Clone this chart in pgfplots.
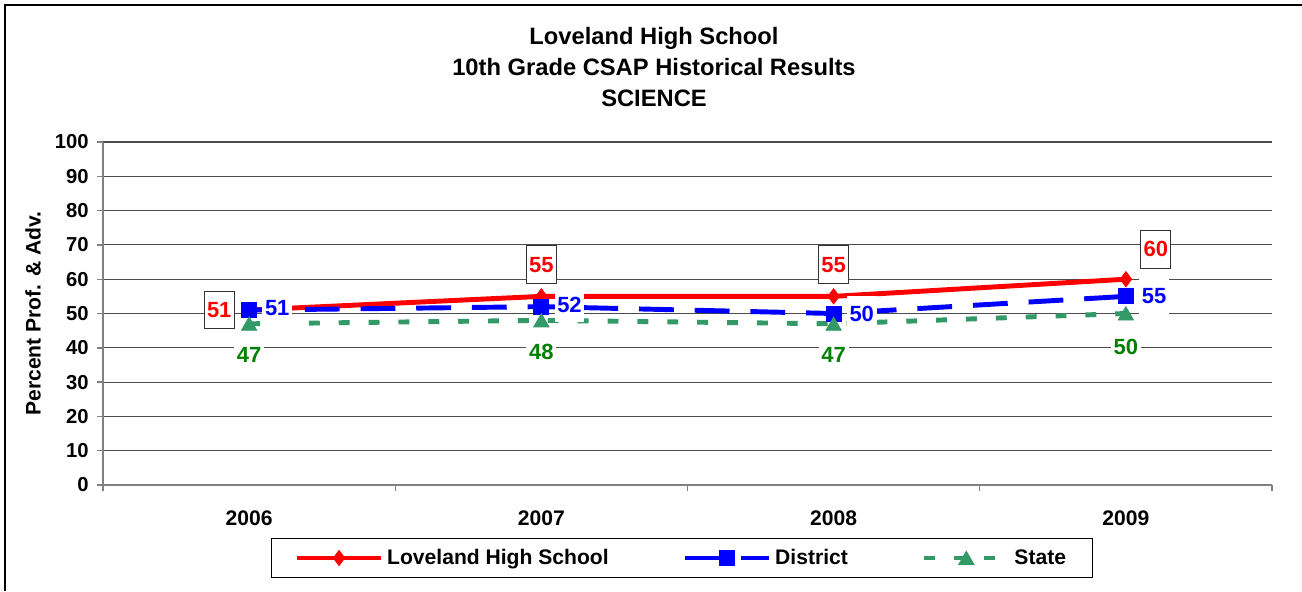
\documentclass[border=0pt]{standalone}
\usepackage{pgfplots}
\pgfplotsset{compat=1.18}
\usepackage{fontspec}
\setmainfont{Liberation Sans}

\definecolor{lhs}{RGB}{255,0,0}
\definecolor{dist}{RGB}{0,0,255}
\definecolor{state}{RGB}{51,153,102}
\definecolor{statelab}{RGB}{0,128,0}

% label offsets (pt) relative to the point
\pgfplotstableread{
x y dx dy
0 51 -17 0
1 55 0 18
2 55 0 18
3 60 17 17
}\lhsdata
\pgfplotstableread{
x y dx dy
0 51 16 1
1 52 16 1
2 50 16 0
3 55 16 0
}\distdata
\pgfplotstableread{
x y dx dy
0 47 0 -18
1 48 0 -18
2 47 0 -18
3 50 0 -19
}\statedata

\begin{document}
\begin{tikzpicture}
\path[use as bounding box] (0,0) rectangle (26.04,11.82);
\draw[line width=1.4pt] (0.1,0) -- (0.1,11.72) -- (26.04,11.72);

\node[font=\bfseries\fontsize{13.5}{17.9}\selectfont, align=center] at (13.08,10.48)
  {Loveland High School\\10th Grade CSAP Historical Results\\SCIENCE};

\begin{axis}[
  at={(2.06cm,2.12cm)}, anchor=south west,
  scale only axis, width=23.38cm, height=6.86cm,
  xmin=-0.5, xmax=3.5, ymin=0, ymax=100,
  ytick distance=10,
  xtick={-0.5,0.5,1.5,2.5,3.5}, xticklabels={},
  extra x ticks={0,1,2,3},
  extra x tick labels={2006,2007,2008,2009},
  extra x tick style={major tick length=0pt, grid=none},
  axis lines=left, axis line style={-, draw=gray, line width=0.8pt},
  tick align=outside, major tick length=3.6pt,
  tick style={draw=gray, line width=0.8pt},
  ymajorgrids, grid style={draw=black!70, line width=0.6pt},
  /pgf/number format/assume math mode=true,
  yticklabel style={font=\bfseries\fontsize{11.5}{13}\selectfont, xshift=-1pt},
  xticklabel style={font=\bfseries\fontsize{12}{14}\selectfont, yshift=-11pt},
  ylabel={Percent Prof. \& Adv.},
  ylabel style={font=\bfseries\fontsize{12}{14}\selectfont, at={(axis description cs:-0.0599,0.5)}, anchor=center},
  legend columns=3,
  legend style={at={(0.4953,-0.2128)}, anchor=center, draw=black, line width=0.6pt,
    font=\bfseries\fontsize{12}{14}\selectfont, inner xsep=13pt, inner ysep=4pt,
    /tikz/every even column/.append style={column sep=40pt}},
  legend image code/.code={\draw[mark repeat=2,mark phase=2] plot coordinates {(0pt,0pt)(24pt,0pt)(48pt,0pt)};},
  clip=false,
]
\addplot[lhs, line width=2.8pt, mark=diamond*, mark size=4.3pt, mark options={solid, line width=0.5pt}] table[x=x,y=y] {\lhsdata};
\addlegendentry{Loveland High School}
\addplot[dist, line width=2.8pt, dash pattern=on 19.8pt off 11.9pt, mark=square*, mark size=4.25pt, mark options={solid, line width=0.5pt}] table[x=x,y=y] {\distdata};
\addlegendentry{District}
\addplot[state, line width=2.8pt, dash pattern=on 6.2pt off 10.8pt, mark=triangle*, mark size=5pt, mark options={solid, line width=0.5pt, yshift=-1.2pt}] table[x=x,y=y] {\statedata};
\addlegendentry{State}

% data labels
\addplot[draw=none, mark=none, forget plot, point meta=y,
  visualization depends on={\thisrow{dx} \as \dx},
  visualization depends on={\thisrow{dy} \as \dy},
  nodes near coords,
  every node near coord/.append style={anchor=center, xshift=\dx pt, yshift=\dy pt,
    font=\bfseries\fontsize{12.5}{14}\selectfont, text=lhs, fill=white, draw=black!80, line width=0.6pt,
    minimum width=17pt, minimum height=21.5pt, inner sep=1pt}]
  table[x=x,y=y] {\lhsdata};
\addplot[draw=none, mark=none, forget plot, point meta=y,
  visualization depends on={\thisrow{dx} \as \dx},
  visualization depends on={\thisrow{dy} \as \dy},
  nodes near coords,
  every node near coord/.append style={anchor=center, xshift=\dx pt, yshift=\dy pt,
    font=\bfseries\fontsize{12.5}{14}\selectfont, text=dist, fill=white,
    minimum width=17pt, minimum height=20pt, inner sep=1pt}]
  table[x=x,y=y] {\distdata};
\addplot[draw=none, mark=none, forget plot, point meta=y,
  visualization depends on={\thisrow{dx} \as \dx},
  visualization depends on={\thisrow{dy} \as \dy},
  nodes near coords,
  every node near coord/.append style={anchor=center, xshift=\dx pt, yshift=\dy pt,
    font=\bfseries\fontsize{12.5}{14}\selectfont, text=statelab, fill=white,
    minimum width=17pt, minimum height=20pt, inner sep=1pt}]
  table[x=x,y=y] {\statedata};
\end{axis}
\end{tikzpicture}
\end{document}
